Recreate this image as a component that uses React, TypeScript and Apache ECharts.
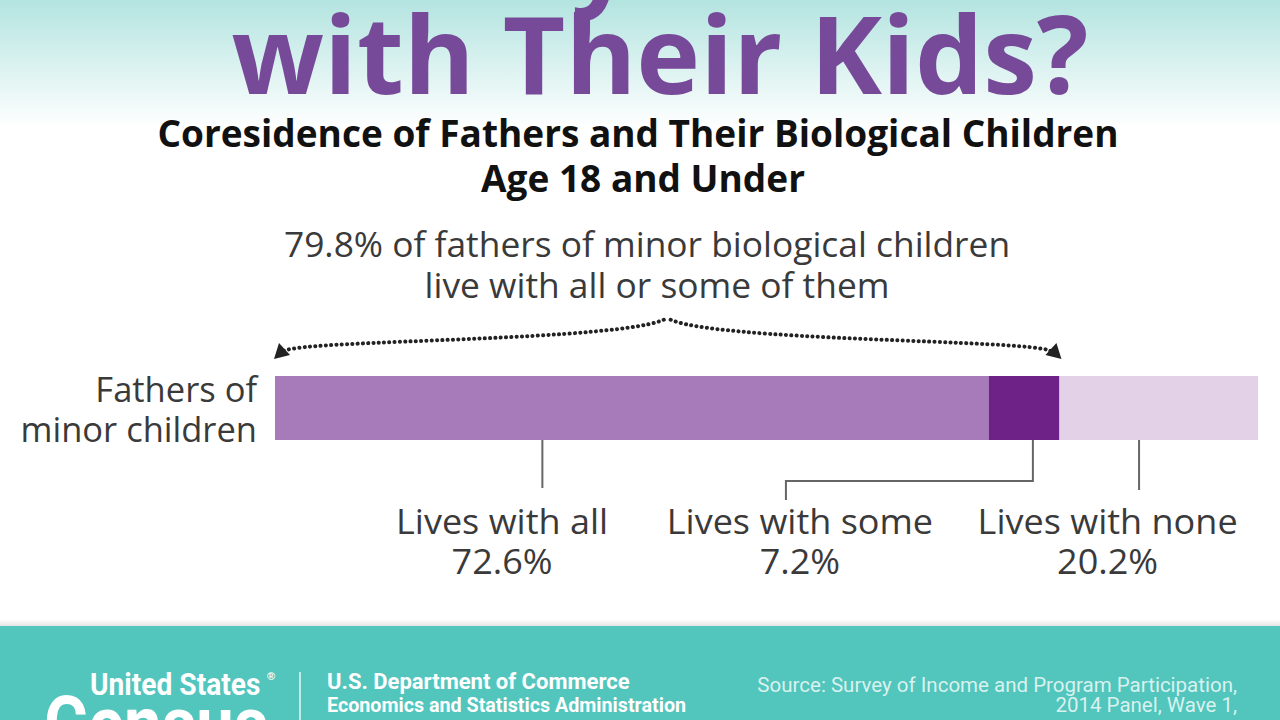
import React, { useEffect, useRef } from "react";
import * as echarts from "echarts";

const categories = ["Fathers of\nminor children"];
const segmentNames = ["Lives with all", "Lives with some", "Lives with none"];
const segmentValues = [72.6, 7.2, 20.2];
const segmentColors = ["#a77ab9", "#6e2186", "#e2d1e7"];
const livesWithAllOrSome = 79.8;
const braceText = ["79.8% of fathers of minor biological children", "live with all or some of them"];

// annotation layout (in axis units, converted by the chart's own scale)
const leaderX = [27.2, 77.1, 87.9];
const labelX = [23.1, 53.4, 84.7];

export default function App() {
  const ref = useRef<HTMLDivElement>(null);
  useEffect(() => {
    document.body.style.margin = "0";
    const chart = echarts.init(ref.current!, null, { renderer: "svg" });
    const font = "'Open Sans', sans-serif";
    const labelFont = `34px ${font}`;
    const textColor = "#3a3a3a";
    chart.setOption({
      animation: false,
      backgroundColor: "transparent",
      grid: { left: 275, right: 22, top: 376, height: 64 },
      xAxis: { type: "value", min: 0, max: 100, show: false },
      yAxis: {
        type: "category",
        data: categories,
        axisLine: { show: false },
        axisTick: { show: false },
        axisLabel: { fontSize: 34.5, color: textColor, fontFamily: font, margin: 18, align: "right", lineHeight: 40 },
      },
      series: segmentNames.map((n, i) => ({
        type: "bar",
        name: n,
        stack: "total",
        barWidth: 64,
        data: [segmentValues[i]],
        itemStyle: { color: segmentColors[i] },
      })),
    });

    const px = (v: number) => chart.convertToPixel({ xAxisIndex: 0 }, v) as number;
    const cy = chart.convertToPixel({ yAxisIndex: 0 }, 0) as number;
    const barTop = cy - 32;
    const barBot = cy + 32;

    const x0 = px(0);
    const xEnd = px(livesWithAllOrSome);
    const xMid = (x0 + xEnd) / 2;
    const braceY = barTop - 22;
    const peakY = barTop - 58;
    const dot = { stroke: "#222", lineWidth: 4, lineDash: [0.1, 5.2], lineCap: "round", fill: null };

    const lineStyle = { stroke: "#666", lineWidth: 2 };
    const cond = "'Roboto', 'Open Sans', sans-serif";
    const graphics: any[] = [
      {
        type: "rect",
        shape: { x: 0, y: 0, width: 1280, height: 170 },
        style: {
          fill: new echarts.graphic.LinearGradient(0, 0, 0, 1, [
            { offset: 0, color: "#b3e4e0" },
            { offset: 0.75, color: "#ffffff" },
            { offset: 1, color: "#ffffff" },
          ]),
        },
        z: -10,
      },
      {
        type: "text",
        x: 690, y: -12,
        style: { text: "How Many Fathers Live", fill: "#774a99", font: `bold 108px ${font}`, lineHeight: 70, align: "center", verticalAlign: "bottom" },
      },
      {
        type: "text",
        x: 660, y: 52,
        style: { text: "with Their Kids?", fill: "#774a99", font: `bold 108px ${font}`, lineHeight: 80, align: "center", verticalAlign: "middle" },
      },
      {
        type: "text",
        x: 638, y: 132,
        style: { text: "Coresidence of Fathers and Their Biological Children", fill: "#111", font: `bold 37px ${font}`, lineHeight: 40, align: "center", verticalAlign: "middle" },
      },
      {
        type: "text",
        x: 643, y: 177,
        style: { text: "Age 18 and Under", fill: "#111", font: `bold 37px ${font}`, lineHeight: 40, align: "center", verticalAlign: "middle" },
      },
      {
        type: "text",
        x: 647, y: 244, scaleX: 1.04,
        style: { text: braceText[0], fill: textColor, font: labelFont, lineHeight: 38, align: "center", verticalAlign: "middle" },
      },
      {
        type: "text",
        x: 657, y: 285, scaleX: 1.04,
        style: { text: braceText[1], fill: textColor, font: labelFont, lineHeight: 38, align: "center", verticalAlign: "middle" },
      },
      // brace
      {
        type: "bezierCurve",
        shape: { x1: x0 + 9, y1: braceY - 3, cpx1: x0 + 30, cpy1: braceY - 15, cpx2: xMid - 40, cpy2: braceY - 12, x2: xMid, y2: peakY },
        style: dot,
      },
      {
        type: "bezierCurve",
        shape: { x1: xEnd - 9, y1: braceY - 3, cpx1: xEnd - 30, cpy1: braceY - 15, cpx2: xMid + 40, cpy2: braceY - 12, x2: xMid, y2: peakY },
        style: dot,
      },
      {
        type: "polygon",
        shape: { points: [[x0 - 1, braceY + 5], [x0 + 4, braceY - 11], [x0 + 15, braceY + 1]] },
        style: { fill: "#222" },
      },
      {
        type: "polygon",
        shape: { points: [[xEnd + 2, braceY + 5], [xEnd - 3, braceY - 11], [xEnd - 14, braceY + 1]] },
        style: { fill: "#222" },
      },
      // leader lines
      { type: "line", shape: { x1: px(leaderX[0]), y1: barBot - 8, x2: px(leaderX[0]), y2: barBot + 48 }, style: lineStyle },
      {
        type: "polyline",
        shape: { points: [[px(leaderX[1]), barBot], [px(leaderX[1]), barBot + 41], [px(labelX[1]) - 14, barBot + 41], [px(labelX[1]) - 14, barBot + 60]] },
        style: { ...lineStyle, fill: null },
      },
      { type: "line", shape: { x1: px(leaderX[2]), y1: barBot - 8, x2: px(leaderX[2]), y2: barBot + 50 }, style: lineStyle },
      // footer
      {
        type: "rect",
        shape: { x: 0, y: 619, width: 1280, height: 8 },
        style: { fill: new echarts.graphic.LinearGradient(0, 0, 0, 1, [{ offset: 0, color: "rgba(0,0,0,0)" }, { offset: 1, color: "rgba(0,0,0,0.12)" }]) },
      },
      { type: "rect", shape: { x: 0, y: 626, width: 1280, height: 94 }, style: { fill: "#52c5bc" } },
      {
        type: "text", x: 90, y: 684, scaleX: 0.88,
        style: { text: "United States", fill: "#fff", font: `bold 32px ${cond}`, lineHeight: 24, verticalAlign: "middle" },
      },
      {
        type: "text", x: 267, y: 676,
        style: { text: "®", fill: "#fff", font: `bold 11px sans-serif`, verticalAlign: "middle" },
      },
      {
        type: "text", x: 44, y: 686, scaleX: 0.86,
        style: { text: "Census", fill: "#fff", font: `bold 78px ${cond}`, verticalAlign: "top" },
      },
      { type: "line", shape: { x1: 300, y1: 672, x2: 300, y2: 720 }, style: { stroke: "#e8f7f6", lineWidth: 1.5 } },
      {
        type: "text", x: 327, y: 681,
        style: { text: "U.S. Department of Commerce", fill: "#fff", font: `bold 22px ${cond}`, lineHeight: 20, verticalAlign: "middle" },
      },
      {
        type: "text", x: 327, y: 705, scaleX: 0.985,
        style: { text: "Economics and Statistics Administration", fill: "#fff", font: `bold 20px ${cond}`, lineHeight: 20, verticalAlign: "middle" },
      },
      {
        type: "text", x: 1237, y: 685,
        style: { text: "Source: Survey of Income and Program Participation,", fill: "#d9f2ef", font: `20.5px ${cond}`, lineHeight: 18, align: "right", verticalAlign: "middle" },
      },
      {
        type: "text", x: 1237, y: 705,
        style: { text: "2014 Panel, Wave 1,", fill: "#d9f2ef", font: `20.5px ${cond}`, lineHeight: 18, align: "right", verticalAlign: "middle" },
      },
    ];

    segmentNames.forEach((n, i) => {
      graphics.push({
        type: "text",
        x: px(labelX[i]),
        y: 521, scaleX: 1.06,
        style: { text: n, fill: textColor, font: labelFont, lineHeight: 38, align: "center", verticalAlign: "middle" },
      });
      graphics.push({
        type: "text",
        x: px(labelX[i]),
        y: 561, scaleX: 1.06,
        style: { text: segmentValues[i].toFixed(1) + "%", fill: textColor, font: labelFont, lineHeight: 38, align: "center", verticalAlign: "middle" },
      });
    });

    chart.setOption({ graphic: graphics });
    return () => chart.dispose();
  }, []);
  return <div ref={ref} style={{ width: 1280, height: 720, background: "#fff" }} />;
}
